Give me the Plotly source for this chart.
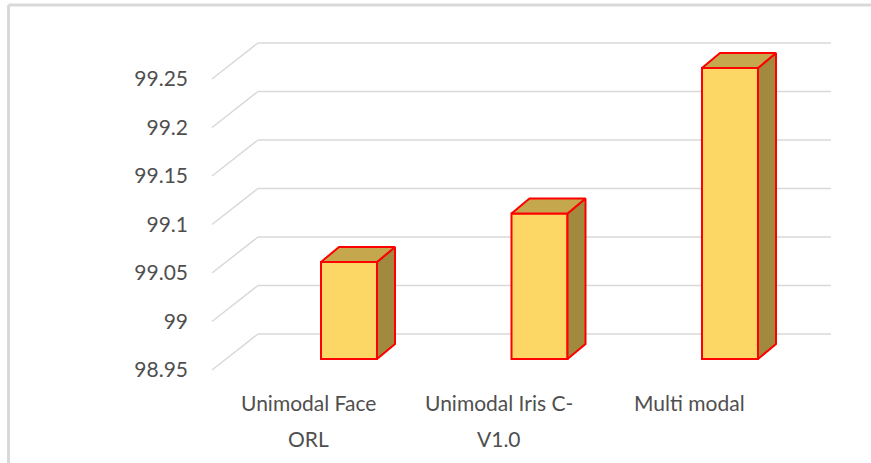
import plotly.graph_objects as go

# ---------------- data ----------------
categories = ["Unimodal Face<br>ORL", "Unimodal Iris C-<br>V1.0", "Multi modal"]
values = [99.05, 99.1, 99.25]
tick_values = [98.95, 99.0, 99.05, 99.1, 99.15, 99.2, 99.25]
tick_labels = ["98.95", "99", "99.05", "99.1", "99.15", "99.2", "99.25"]

# ---------------- layout constants (pixels) ----------------
W, H = 871, 463
L, R, T, B = 195, 860, 15, 385          # plot area in pixels
PX_PER_VAL = 970.0                        # pixels per value unit
PX_PER_CAT = 190.5                        # pixels per category step
Y0_PX = 370                               # pixel row of 98.95 on front plane
CAT0_PX = 308                             # pixel column of first category label

BASE = tick_values[0]
y_lo = BASE - (B - Y0_PX) / PX_PER_VAL
y_hi = BASE + (Y0_PX - T) / PX_PER_VAL
x_lo = (L - CAT0_PX) / PX_PER_CAT
x_hi = (R - CAT0_PX) / PX_PER_CAT

def dxu(px):
    return px / PX_PER_CAT

def dyu(px):
    return px / PX_PER_VAL

# 3D geometry
back_dx, back_dy = dxu(46), dyu(36)        # depth of the whole box
wall_front_x = dxu(212 - CAT0_PX)
wall_back_x = wall_front_x + back_dx
grid_right_x = dxu(831 - CAT0_PX)
bar_off = dxu(41)
bar_half = dxu(28)
bar_lift = dyu(11)
bar_ddx, bar_ddy = dxu(18), dyu(15)

FRONT = "#FDD766"
TOP = "#C5A74E"
SIDE = "#A1893D"
EDGE = "#FF0000"
GRID = "#D9D9D9"
TEXT = "#4F4F4F"
FONT = "Lato"

fig = go.Figure()

xs = [i + bar_off for i in range(len(values))]

# front faces
fig.add_trace(go.Bar(
    x=xs,
    y=[v - BASE for v in values],
    base=[BASE + bar_lift] * len(values),
    width=2 * bar_half,
    marker=dict(color=FRONT, line=dict(color=EDGE, width=2)),
    hoverinfo="skip",
    showlegend=False,
))

# side and top faces
for xc, v in zip(xs, values):
    x0, x1 = xc - bar_half, xc + bar_half
    yb, yt = BASE + bar_lift, v + bar_lift
    fig.add_trace(go.Scatter(
        x=[x1, x1 + bar_ddx, x1 + bar_ddx, x1, x1],
        y=[yb, yb + bar_ddy, yt + bar_ddy, yt, yb],
        mode="lines", fill="toself", fillcolor=SIDE,
        line=dict(color=EDGE, width=2), hoverinfo="skip", showlegend=False,
    ))
    fig.add_trace(go.Scatter(
        x=[x0, x1, x1 + bar_ddx, x0 + bar_ddx, x0],
        y=[yt, yt, yt + bar_ddy, yt + bar_ddy, yt],
        mode="lines", fill="toself", fillcolor=TOP,
        line=dict(color=EDGE, width=2), hoverinfo="skip", showlegend=False,
    ))

shapes = []
for t in tick_values:
    # back wall gridline
    shapes.append(dict(type="line", xref="x", yref="y", layer="below",
                       x0=wall_back_x, x1=grid_right_x, y0=t + back_dy, y1=t + back_dy,
                       line=dict(color=GRID, width=1.5)))
    # side wall diagonal
    shapes.append(dict(type="line", xref="x", yref="y", layer="below",
                       x0=wall_front_x, x1=wall_back_x, y0=t, y1=t + back_dy,
                       line=dict(color=GRID, width=1.5)))

# chart frame (left and top border)
def xp(px):
    return (px - L) / (R - L)

def yp(py):
    return (B - py) / (B - T)

shapes.append(dict(type="line", xref="paper", yref="paper",
                   x0=xp(8.5), x1=xp(8.5), y0=yp(5), y1=yp(470),
                   line=dict(color=GRID, width=3)))
shapes.append(dict(type="line", xref="paper", yref="paper",
                   x0=xp(8.5), x1=xp(880), y0=yp(5), y1=yp(5),
                   line=dict(color=GRID, width=3)))

# category labels, line by line
annotations = []
line_rows = [402, 438]
for i, cat in enumerate(categories):
    for j, part in enumerate(cat.split("<br>")):
        annotations.append(dict(
            x=i, xref="x", y=yp(line_rows[j]), yref="paper",
            text=part, showarrow=False, xanchor="center", yanchor="middle",
            font=dict(family=FONT, size=21, color=TEXT),
        ))

fig.update_layout(
    width=W, height=H,
    margin=dict(l=L, r=W - R, t=T, b=H - B, pad=0),
    paper_bgcolor="white", plot_bgcolor="white",
    shapes=shapes, annotations=annotations,
    showlegend=False,
    xaxis=dict(range=[x_lo, x_hi], showgrid=False, zeroline=False,
               showticklabels=False, showline=False, fixedrange=True),
    yaxis=dict(range=[y_lo, y_hi], showgrid=False, zeroline=False,
               showline=False, tickmode="array", tickvals=tick_values,
               ticktext=tick_labels, ticks="", ticklabelstandoff=6,
               tickfont=dict(family=FONT, size=21, color=TEXT)),
)

fig.write_html("out.html")
